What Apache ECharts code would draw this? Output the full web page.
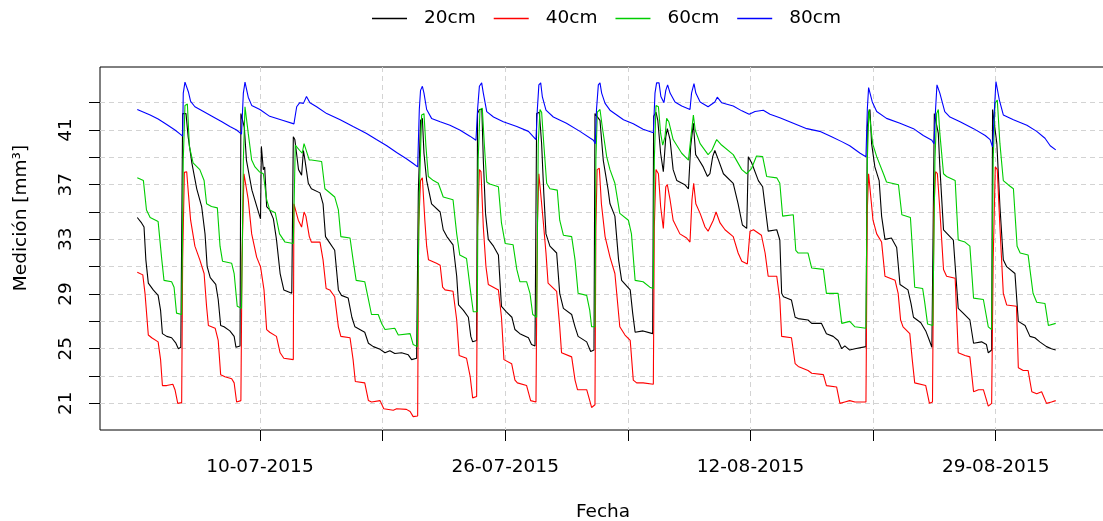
<!DOCTYPE html>
<html>
<head>
<meta charset="utf-8">
<script src="https://cdn.jsdelivr.net/npm/echarts@6/dist/echarts.min.js"></script>
<style>
  html, body { margin: 0; padding: 0; background: #ffffff; }
  #chart { width: 1103px; height: 521px; }
</style>
</head>
<body>
<div id="chart"></div>
<script>
// Soil moisture readings at four depths; x = hours since the first reading.
const seriesNames = ['20cm', '40cm', '60cm', '80cm'];
const seriesColors = ['#000000', '#FF0000', '#00CD00', '#0000FF'];

const depth20 = [[0,34.6],[7,34.2],[11,33.9],[14,31.5],[18,29.8],[26,29.3],[34,28.9],[38,27.8],[41,26.1],[48,25.9],[56,25.8],[63,25.4],[67,25.0],[71,25.1],[74,42.2],[76,42.3],[79.5,42.2],[83,40.5],[89,38.6],[97,36.7],[105,35.4],[110.5,33.4],[114,31.0],[119,30.2],[128,29.7],[132,28.6],[136,26.7],[141.5,26.6],[151,26.3],[158,25.9],[161,25.1],[167.6,25.2],[169,42.2],[172,42.3],[174.6,41.2],[178,38.8],[187,36.6],[195,35.4],[201,34.5],[202.4,39.8],[205.6,38.1],[207.8,38.3],[211,35.4],[216,35.15],[222,34.5],[227,33.0],[233,30.5],[239,29.3],[252,29.05],[254.5,40.5],[257,40.3],[263,38.1],[268,37.7],[271,39.5],[273.5,38.8],[279,37.1],[284,36.7],[298,36.4],[303,35.6],[307,33.2],[313,32.8],[322,32.2],[328,29.3],[333,28.9],[344,28.7],[350,27.3],[355,26.6],[371,26.2],[377,25.4],[385,25.15],[396,24.95],[404,24.7],[412,24.85],[420,24.65],[431,24.7],[442,24.55],[447.5,24.2],[455.6,24.3],[458.4,36.4],[462,41.7],[465,41.85],[467.6,39.3],[472,37.3],[480,35.6],[494,35.0],[499,33.7],[505,33.2],[515,32.6],[521,30.3],[524,28.2],[532,27.8],[540,27.3],[544,25.9],[547,25.5],[553.5,25.6],[555,42.2],[558,42.5],[562,42.5],[564.4,38.8],[568,34.9],[572.5,33.0],[581,32.5],[589,31.85],[594,28.1],[602,27.7],[611,27.3],[616,26.4],[624,26.1],[638,25.8],[643,25.3],[648.7,25.2],[651.4,42.2],[655.7,42.3],[659.5,40.0],[663,36.4],[666.6,33.4],[673,32.5],[684,32.0],[689,29.05],[695,27.95],[708.5,27.5],[714,26.6],[719,25.9],[733,25.5],[739.5,24.8],[744.9,24.9],[746.5,42.2],[749,42.3],[754.7,41.7],[760,38.8],[768,36.6],[771,35.6],[779,34.7],[785,31.5],[790,30.0],[804,29.3],[808,27.6],[812,26.2],[825,26.3],[840.6,26.1],[842.2,42.0],[846,42.3],[849,41.7],[853.6,39.3],[858,37.95],[862,40.5],[864.5,41.1],[869,40.3],[874,38.1],[880,37.3],[893,37.0],[899,36.7],[902.6,39.8],[907,41.5],[910.7,39.2],[915,38.9],[923,38.3],[930,37.6],[934,37.8],[938.5,39.05],[942,39.5],[948,38.8],[956,37.8],[972,37.1],[980,35.6],[987,34.05],[994,33.8],[996.6,39.05],[1002,38.6],[1013,37.3],[1020,36.85],[1024,35.4],[1029,33.6],[1043,33.7],[1048,32.95],[1051,29.05],[1054,28.8],[1067,28.56],[1073,27.3],[1078,27.2],[1094,27.1],[1100,26.85],[1116,26.85],[1124,26.1],[1135,25.9],[1143,25.6],[1149,25.0],[1154,25.2],[1162,24.9],[1170.5,25.0],[1188.5,25.15],[1190.7,41.2],[1192.8,42.3],[1195,42.5],[1197.7,40.0],[1203,38.3],[1210,37.3],[1214,34.7],[1219.5,33.0],[1230,33.1],[1238.6,32.4],[1244,29.7],[1257,29.3],[1262,28.3],[1266,27.3],[1278,26.9],[1286,26.3],[1292,25.6],[1296,25.1],[1298.5,25.2],[1300,42.2],[1302.7,42.3],[1306.5,40.75],[1309,38.3],[1315,33.7],[1331,32.95],[1339,27.95],[1347,27.6],[1358,27.1],[1364,25.4],[1377,25.5],[1385,25.3],[1388,24.7],[1393.5,24.9],[1395,42.5],[1398,42.6],[1402,40.0],[1407,35.4],[1412.5,31.5],[1418,31.0],[1431.5,30.5],[1437,27.0],[1448,26.7],[1456,25.9],[1464,25.8],[1472,25.5],[1483,25.15],[1491,25.0],[1498,24.9]];

const depth40 = [[0,30.6],[9,30.4],[12.6,29.05],[18,26.0],[23.5,25.8],[34,25.5],[38,24.2],[41,22.3],[48,22.3],[58,22.4],[61.5,22.0],[66,21.0],[72.4,21.05],[74,31.5],[76.8,37.9],[80.6,37.95],[83.3,36.4],[87,34.4],[94,32.5],[102,31.5],[109,30.5],[113,28.1],[116,26.7],[127,26.5],[132,25.6],[136,23.1],[143,22.95],[154,22.8],[158,22.5],[162,21.1],[169,21.2],[170.8,31.5],[174,37.8],[177,37.9],[181,35.9],[186.6,33.4],[194.7,31.7],[201,31.0],[206.7,29.3],[211,26.4],[216,26.2],[227,25.9],[233,24.7],[239,24.3],[254.5,24.2],[255.5,35.6],[257.7,35.6],[262.6,34.4],[268,33.9],[272,35.0],[275,34.7],[280.6,33.2],[284,32.8],[298,32.8],[303,31.5],[308,29.4],[314,29.3],[322,28.8],[328,26.6],[332,25.9],[347,25.8],[352,24.2],[355.6,22.6],[371,22.5],[377,21.2],[382,21.1],[396,21.2],[402,20.6],[417.6,20.5],[423,20.6],[439,20.56],[445,20.4],[450,20.03],[457.3,20.07],[458.9,33.9],[462,37.3],[465,37.5],[469,34.4],[472,32.5],[475,31.5],[488,31.25],[494,31.1],[498,29.5],[502,29.3],[515,29.2],[521,27.1],[525,24.5],[537,24.3],[543,22.95],[547,21.4],[553.5,21.5],[555,33.9],[558,38.1],[560.6,37.95],[564.4,33.9],[568.7,31.0],[572.5,29.7],[589,29.3],[594,27.3],[598,24.2],[610.6,23.9],[616,22.7],[620,22.5],[635,22.3],[641.6,21.2],[650.3,21.1],[652.5,33.9],[655,37.8],[658,37.8],[662,34.4],[666.6,32.0],[670,29.8],[684,29.2],[689,26.6],[692,24.7],[708.5,24.4],[714,22.7],[718,22.0],[733,22.0],[738,21.2],[741,20.7],[746.5,20.9],[748,33.9],[750,38.1],[753.6,38.2],[757,35.6],[763,33.2],[771,31.7],[779,30.5],[787,26.6],[795.5,26.0],[804,25.6],[809,22.7],[814.5,22.5],[825,22.5],[841.7,22.4],[843.3,33.9],[846,38.1],[850,37.8],[853.6,35.4],[858,33.8],[862,36.85],[864.5,37.0],[869,35.9],[874,34.4],[885,33.4],[896,33.1],[901.5,32.8],[904.7,35.9],[907.5,37.1],[911,35.6],[918,34.9],[926,33.9],[931,33.6],[939.5,34.4],[944,35.0],[950.5,34.2],[958.6,33.7],[972,33.2],[980,32.0],[986,31.4],[995,31.2],[999.4,33.6],[1005,33.7],[1018,33.3],[1024,32.0],[1029,30.3],[1043,30.3],[1048,28.6],[1051,25.9],[1067,25.8],[1073,23.9],[1078,23.7],[1094,23.4],[1100,23.2],[1119,23.1],[1124,22.3],[1140.6,22.2],[1146,21.0],[1154,21.1],[1162,21.2],[1170.5,21.1],[1188.5,21.1],[1190.7,35.15],[1192.8,37.8],[1196,37.8],[1200,34.4],[1206,33.4],[1214,32.8],[1219.5,30.3],[1236,30.0],[1241,29.05],[1245,27.1],[1249,26.6],[1260,26.1],[1264,24.2],[1268,22.5],[1286,22.3],[1292,21.0],[1297,21.1],[1299.4,35.15],[1302,37.95],[1305,37.8],[1309,35.15],[1315,30.8],[1320,30.3],[1334,30.15],[1339,24.7],[1350,24.5],[1358,24.4],[1364,21.85],[1372,22.0],[1380,22.0],[1388,20.8],[1393.5,21.0],[1396,31.5],[1399.4,38.3],[1402.7,38.1],[1407,33.9],[1412.5,29.05],[1418,28.2],[1434,28.1],[1437,23.6],[1445,23.4],[1453,23.4],[1459,21.85],[1467,21.7],[1475,21.85],[1483,21.0],[1491,21.1],[1498,21.2]];

const depth60 = [[0,37.5],[10,37.3],[15,35.15],[21,34.6],[34,34.3],[40,31.5],[43.6,30.0],[56,29.9],[60,29.5],[64,27.6],[72.4,27.5],[75,38.8],[77.8,42.8],[81.7,42.9],[85,39.8],[91,38.6],[102,38.1],[109,37.3],[113,35.6],[121,35.4],[130.6,35.3],[135,32.5],[139,31.4],[154,31.25],[158,30.5],[163,28.1],[170,27.95],[173,38.8],[175.7,42.7],[178.4,42.6],[181,40.75],[186.6,38.8],[192,38.3],[199,37.95],[205.6,37.8],[211,35.9],[216,35.15],[225,34.95],[232,33.4],[241,32.8],[254.5,32.7],[257.7,39.9],[260,40.0],[265,39.5],[269,39.3],[272,40.0],[275,39.9],[280.6,38.8],[284,38.8],[300.7,38.7],[306,36.7],[311.5,36.5],[322,36.1],[328,35.15],[332,33.2],[347,33.1],[352,31.5],[357,30.0],[371,29.9],[377,28.6],[382,27.5],[393,27.5],[398.5,26.85],[404,26.4],[420,26.5],[425.7,26.0],[445,26.1],[450,25.3],[456.7,25.15],[460,36.4],[463.8,42.1],[467.6,42.2],[470.8,39.8],[474.7,37.6],[483,37.3],[491,37.1],[494,37.05],[499,36.1],[515,35.9],[521,33.4],[526,31.85],[537,31.6],[544,29.05],[548,27.7],[554.6,27.7],[556,38.8],[559,42.5],[562.7,42.6],[566,40.0],[570,37.2],[575,37.05],[589,36.85],[594,34.2],[600,32.7],[613,32.6],[619,30.8],[624,29.9],[635,29.9],[640.5,29.05],[645,27.5],[651.4,27.3],[654,40.0],[656.8,42.5],[659.5,42.3],[663,40.0],[667.7,37.1],[673,36.7],[685,36.6],[689,34.4],[695,33.3],[708.5,33.2],[714,31.5],[719,29.05],[733,28.9],[738,27.8],[741,26.6],[746.5,26.6],[748,38.8],[750.3,42.3],[754.7,42.5],[758.5,41.2],[765.6,39.05],[771,38.1],[779,37.1],[787,34.9],[801,34.4],[806,33.4],[812,30.0],[825,29.9],[836,29.5],[841.7,29.4],[843.3,38.8],[846,42.8],[850,42.7],[853.6,40.75],[857,39.9],[860.7,40.5],[863.4,41.85],[867,41.6],[874,40.3],[888,39.3],[899,38.8],[903,40.5],[907,42.1],[910,41.0],[918,40.0],[931,39.2],[937,39.5],[945,40.3],[953,39.9],[972,39.2],[986,38.1],[994,37.8],[1002,38.2],[1010,39.1],[1020,39.05],[1026.5,37.6],[1043,37.5],[1048,37.1],[1052.6,34.7],[1070,34.8],[1074,32.2],[1078,32.0],[1094,32.0],[1100,30.9],[1119,30.8],[1124,29.05],[1143,29.05],[1149,26.85],[1162,27.0],[1170.5,26.6],[1188.5,26.5],[1190.7,38.8],[1193.4,42.5],[1196,42.6],[1199.4,40.0],[1206,39.05],[1217,37.8],[1222,37.2],[1241.5,37.0],[1247,34.8],[1261,34.6],[1264,32.5],[1268,29.5],[1281,29.4],[1284,28.5],[1289,26.8],[1297.5,26.7],[1301,38.8],[1303.8,42.2],[1306.5,42.5],[1309,40.75],[1315,37.8],[1320,37.6],[1334,37.3],[1339,32.95],[1350,32.8],[1358,32.5],[1364,28.7],[1380,28.6],[1388,26.6],[1393.5,26.4],[1396,38.8],[1399,42.95],[1402.7,43.2],[1407,40.0],[1412.5,37.3],[1423,36.9],[1429,36.7],[1435,32.5],[1440,32.0],[1453,31.85],[1461,29.05],[1467,28.4],[1480.5,28.3],[1486,26.7],[1498,26.85]];

const depth80 = [[0,42.5],[21,42.1],[34,41.8],[48,41.4],[61.5,41.0],[70,40.7],[74,40.55],[75,43.7],[77.8,44.5],[80.6,44.6],[83.3,43.8],[87,43.1],[94,42.7],[108,42.35],[124,41.95],[138,41.6],[151,41.25],[162,41.0],[170,40.7],[173,43.7],[175.7,44.5],[178.4,44.4],[181,43.4],[186.6,42.8],[200,42.5],[216,42.0],[238,41.7],[255.5,41.45],[260,42.7],[265,43.0],[271,42.95],[276,43.45],[281.6,43.0],[292.5,42.7],[309,42.2],[331,41.75],[352,41.25],[374,40.75],[390,40.3],[407,39.85],[423,39.35],[439,38.9],[450,38.55],[457.3,38.3],[460,42.5],[462,43.9],[465,44.2],[467.6,43.7],[472,42.5],[480,41.85],[494,41.6],[510,41.35],[526,41.0],[542.6,40.55],[552.4,40.25],[555,42.5],[558,44.2],[561.7,44.45],[564.4,43.7],[570,42.35],[581,41.95],[597,41.6],[619,41.25],[638,40.9],[650.3,40.3],[652.5,42.5],[655,44.3],[658,44.45],[660.6,43.45],[666.6,42.45],[678.6,41.95],[700,41.5],[722,40.9],[744,40.25],[747,40.0],[749,42.5],[752,44.3],[754.7,44.45],[757.4,43.7],[763,42.95],[771,42.45],[793,41.75],[809,41.45],[825,41.05],[841.7,40.8],[844.4,43.7],[847,44.45],[851,44.45],[854,43.45],[859,43.0],[862,43.9],[865,44.3],[869,43.7],[877,43.05],[888,42.75],[901.5,42.5],[904,43.7],[908,44.4],[911,43.7],[918,43.05],[931,42.7],[942,43.05],[946,43.4],[953,43.0],[972,42.75],[986,42.4],[998,42.15],[1007.5,42.35],[1021,42.45],[1032,42.15],[1048,41.9],[1070,41.5],[1092,41.1],[1113,40.9],[1132.5,40.5],[1149,40.15],[1162,39.85],[1179,39.3],[1188.5,39.05],[1190.7,42.5],[1192.8,44.1],[1195.5,44.2],[1198.8,43.05],[1206,42.35],[1222,41.85],[1244,41.5],[1266,41.1],[1282,40.6],[1296,40.25],[1299.4,40.0],[1302,42.5],[1304.3,44.3],[1307,44.35],[1309,43.7],[1317,42.35],[1325.5,41.95],[1342,41.6],[1364,41.1],[1383,40.6],[1391,40.3],[1395,39.75],[1398,42.5],[1400.5,44.55],[1402.7,44.6],[1406,43.2],[1412.5,42.1],[1429,41.75],[1451,41.35],[1467,40.9],[1480.5,40.4],[1489,39.85],[1498,39.55]];

// Axis ticks and labels
const xTickHours = [200, 400, 600, 800, 1000, 1200, 1400];
const xLabelHours = [200, 600, 1000, 1400];
const xLabelText = ['10-07-2015', '26-07-2015', '12-08-2015', '29-08-2015'];
const yTickValues = [21, 23, 25, 27, 29, 31, 33, 35, 37, 39, 41, 43];
const yLabelValues = [21, 25, 29, 33, 37, 41];

const FONT = 'DejaVu Sans';
const FS = 18.5;
const gridDash = { color: '#D3D3D3', width: 1, type: [5, 4] };

const chart = echarts.init(document.getElementById('chart'), null, { renderer: 'canvas' });

chart.setOption({
  animation: false,
  backgroundColor: '#ffffff',
  textStyle: { fontFamily: FONT },
  legend: {
    left: 372,
    top: 9,
    padding: 0,
    icon: 'rect',
    itemWidth: 35,
    itemHeight: 1.4,
    itemGap: 18,
    textStyle: { fontFamily: FONT, fontSize: FS, color: '#000', padding: [0, 0, 0, 12] },
    data: seriesNames
  },
  grid: {
    left: 100,
    top: 67,
    width: 1006,
    height: 363,
    outerBoundsMode: 'none',
    containLabel: false,
    show: true,
    borderColor: '#000',
    borderWidth: 1,
    backgroundColor: 'transparent'
  },
  xAxis: {
    type: 'value',
    min: -60.8,
    max: 1580,
    name: 'Fecha',
    nameLocation: 'middle',
    nameGap: 73,
    nameTextStyle: { fontFamily: FONT, fontSize: FS, color: '#000' },
    axisLine: { show: false, onZero: false },
    axisTick: { show: true, length: 11, customValues: xTickHours, lineStyle: { color: '#000', width: 1 } },
    axisLabel: {
      customValues: xLabelHours,
      margin: 28,
      fontFamily: FONT,
      fontSize: FS,
      color: '#000',
      formatter: (v) => xLabelText[xLabelHours.indexOf(v)] || ''
    },
    splitLine: { show: true, lineStyle: gridDash }
  },
  yAxis: {
    type: 'value',
    min: 19.05,
    max: 45.61,
    axisLine: { show: false, onZero: false },
    axisTick: { show: true, length: 11, customValues: yTickValues, lineStyle: { color: '#000', width: 1 } },
    axisLabel: {
      customValues: yLabelValues,
      rotate: 90,
      margin: 24,
      fontFamily: FONT,
      fontSize: FS,
      color: '#000'
    },
    splitLine: { show: true, lineStyle: gridDash }
  },
  graphic: [{
    type: 'text',
    x: 21,
    y: 218,
    rotation: Math.PI / 2,
    style: {
      text: 'Medición [mm³]',
      font: FS + 'px "' + FONT + '"',
      fill: '#000',
      align: 'center',
      verticalAlign: 'middle'
    }
  }],
  series: [depth20, depth40, depth60, depth80].map((d, i) => ({
    name: seriesNames[i],
    type: 'line',
    data: d,
    symbol: 'none',
    smooth: false,
    lineStyle: { color: seriesColors[i], width: 1.1 },
    itemStyle: { color: seriesColors[i] },
    emphasis: { disabled: true }
  }))
});
</script>
</body>
</html>
